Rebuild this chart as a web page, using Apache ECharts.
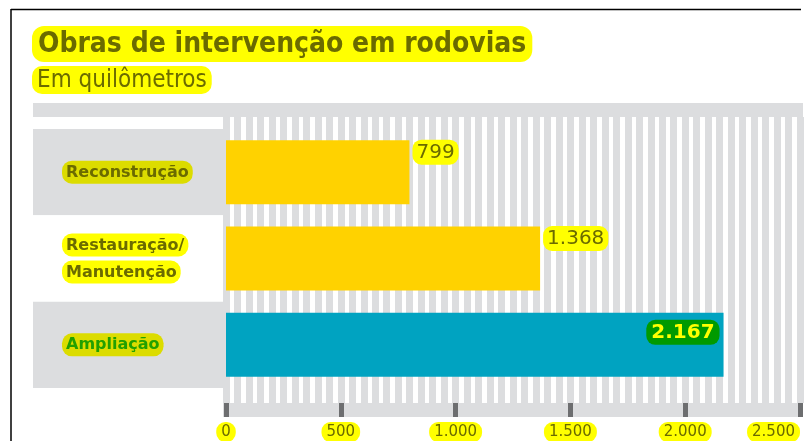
<!DOCTYPE html>
<html lang="pt">
<head>
<meta charset="UTF-8">
<title>Obras de intervenção em rodovias</title>
<script src="https://cdn.jsdelivr.net/npm/echarts@6/dist/echarts.min.js"></script>
<style>
  html, body { margin: 0; padding: 0; background: #fff; }
  #main { width: 811px; height: 441px; }
</style>
</head>
<body>
<div id="main"></div>
<script>
// dados do gráfico
var categorias = ['Reconstrução', 'Restauração/\nManutenção', 'Ampliação'];
var valores = [799, 1368, 2167];
var coresBarras = ['#ffd200', '#ffd200', '#00a3c1'];
var ticksX = [0, 500, 1000, 1500, 2000, 2500];

var OLIVA = '#6b6b00';
var CINZA = '#dcdddf';

function milhar(v) {
    return String(v).replace(/\B(?=(\d{3})+(?!\d))/g, '.');
}

var myChart = echarts.init(document.getElementById('main'));

var dadosBarras = valores.map(function (v, i) {
    var ultimo = i === valores.length - 1;
    return {
        value: v,
        itemStyle: { color: coresBarras[i] },
        label: ultimo ? {
            position: 'insideTopRight',
            distance: 4,
            offset: [0, 3],
            formatter: function (p) { return '{v|' + milhar(p.value) + '}'; },
            rich: { v: { color: '#ffff00', backgroundColor: '#009a00', fontSize: 20, fontWeight: 'bold',
                         fontFamily: 'DejaVu Sans', padding: [3, 5, 2, 5], borderRadius: 9 } }
        } : {
            position: 'right',
            distance: 3,
            offset: [0, -20],
            formatter: function (p) { return '{v|' + milhar(p.value) + '}'; },
            rich: { v: { color: OLIVA, backgroundColor: '#ffff00', fontSize: 20,
                         fontFamily: 'DejaVu Sans', padding: [3, 4, 2, 4], borderRadius: 9 } }
        }
    };
});

myChart.setOption({
    animation: false,
    title: [{
        left: 27, top: 21,
        text: '{t|Obras de intervenção em rodovias}',
        textStyle: { rich: { t: { fontSize: 28, fontWeight: 'bold', color: OLIVA, fontFamily: 'DejaVu Sans Condensed, DejaVu Sans',
                                  backgroundColor: '#ffff00', padding: [5, 6, 3, 6], borderRadius: 12 } } }
    }, {
        left: 27, top: 61,
        text: '{s|Em quilômetros}',
        textStyle: { rich: { s: { fontSize: 24, fontWeight: 'normal', color: OLIVA,
                                  fontFamily: 'Liberation Sans Narrow, DejaVu Sans Condensed, sans-serif',
                                  backgroundColor: '#ffff00', padding: [3, 5, 1, 5], borderRadius: 10 } } }
    }],
    graphic: [
        // moldura
        { type: 'line', shape: { x1: 11, y1: 9.5, x2: 801, y2: 9.5 }, style: { stroke: '#000', lineWidth: 1.5 } },
        { type: 'line', shape: { x1: 11, y1: 9, x2: 11, y2: 441 }, style: { stroke: '#000', lineWidth: 1.5 } },
        // faixas cinza
        { type: 'rect', shape: { x: 33, y: 103, width: 770, height: 14 }, style: { fill: CINZA }, z: -10 },
        { type: 'rect', shape: { x: 223, y: 403, width: 580, height: 14 }, style: { fill: CINZA }, z: -10 }
    ],
    grid: [
        { left: 226, right: 11, top: 117, bottom: 38, outerBoundsMode: 'none', containLabel: false },    // listras
        { left: 226, right: 11, top: 129, bottom: 53, outerBoundsMode: 'none', containLabel: false },    // barras
        { left: 33, width: 190, top: 129, bottom: 53, outerBoundsMode: 'none', containLabel: false }     // faixas
    ],
    xAxis: [{
        gridIndex: 0, type: 'value', min: 0, max: 2500, interval: 50,
        axisLine: { show: false }, axisTick: { show: false }, axisLabel: { show: false },
        splitLine: { show: true, lineStyle: { color: CINZA, width: 7 } }
    }, {
        gridIndex: 0, type: 'value', min: 0, max: 2500, interval: 500, position: 'bottom',
        axisLine: { show: false },
        axisTick: { show: true, length: 14, lineStyle: { color: '#6d6e70', width: 5 } },
        splitLine: { show: false },
        axisLabel: {
            margin: 19,
            alignMaxLabel: 'right',
            formatter: function (v) { return ticksX.indexOf(v) >= 0 ? '{l|' + milhar(v) + '}' : ''; },
            rich: { l: { color: OLIVA, fontSize: 15, fontFamily: 'DejaVu Sans', backgroundColor: '#ffff00',
                         padding: [3, 5, 2, 5], borderRadius: 9 } }
        }
    }, {
        gridIndex: 1, type: 'value', min: 0, max: 2500, show: false
    }, {
        gridIndex: 2, type: 'value', show: false
    }],
    yAxis: [{
        gridIndex: 0, type: 'value', show: false
    }, {
        gridIndex: 1, type: 'category', data: categorias, inverse: true,
        axisLine: { show: false }, axisTick: { show: false }, splitLine: { show: false },
        axisLabel: {
            align: 'left', margin: 164, lineHeight: 27,
            formatter: function (v, i) {
                var est = ['a', 'b', 'c'][i];
                return v.split('\n').map(function (s) { return '{' + est + '|' + s + '}'; }).join('\n');
            },
            rich: {
                a: { color: OLIVA, backgroundColor: '#dcdc00', fontSize: 16, fontWeight: 'bold', fontFamily: 'DejaVu Sans',
                     padding: [4, 4, 3, 4], borderRadius: 10 },
                b: { color: OLIVA, backgroundColor: '#ffff00', fontSize: 16, fontWeight: 'bold', fontFamily: 'DejaVu Sans',
                     padding: [4, 4, 3, 4], borderRadius: 10, lineHeight: 27 },
                c: { color: '#22a000', backgroundColor: '#dcdc00', fontSize: 16, fontWeight: 'bold', fontFamily: 'DejaVu Sans',
                     padding: [4, 4, 3, 4], borderRadius: 10 }
            }
        }
    }, {
        gridIndex: 2, type: 'category', data: categorias, inverse: true,
        axisLine: { show: false }, axisTick: { show: false }, axisLabel: { show: false },
        splitArea: { show: true, areaStyle: { color: [CINZA, '#ffffff'] } }
    }],
    series: [{
        type: 'bar',
        xAxisIndex: 2, yAxisIndex: 1,
        barWidth: 64,
        data: dadosBarras,
        label: { show: true }
    }]
});
</script>
</body>
</html>
